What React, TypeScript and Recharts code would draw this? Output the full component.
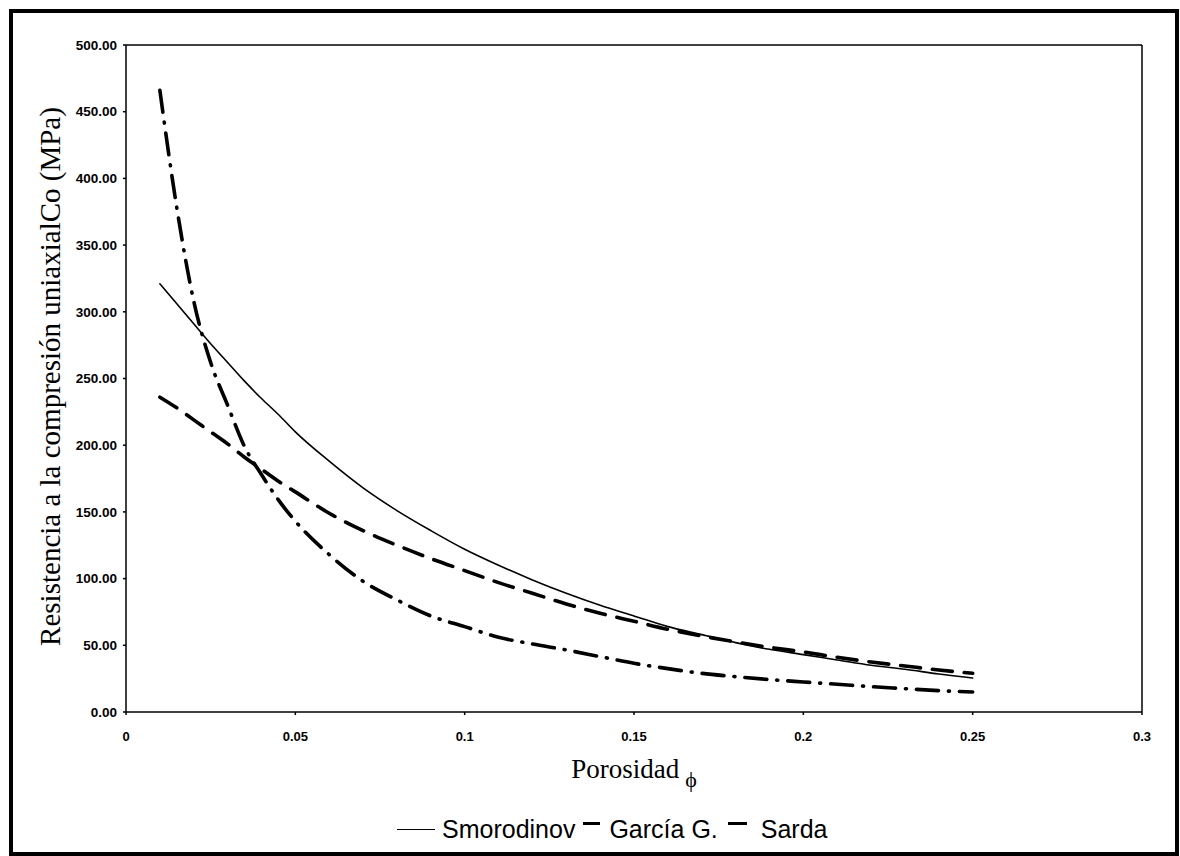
import { LineChart, Line, XAxis, YAxis, Legend, ReferenceLine, Label } from "recharts";

const PHI = [
  0.01, 0.015, 0.02, 0.025, 0.03, 0.035, 0.04, 0.045, 0.05, 0.06, 0.07, 0.08, 0.09, 0.1, 0.11, 0.12, 0.13, 0.14, 0.15,
  0.16, 0.17, 0.18, 0.19, 0.2, 0.21, 0.22, 0.23, 0.24, 0.25,
];

const SMORODINOV = [
  321, 306, 291, 276, 262, 248, 235, 223, 210, 188, 168, 151, 136, 122, 110, 99, 89, 80, 72, 64, 58, 52, 47, 43, 39, 35,
  32, 28.5, 25.5,
];

const GARCIA = [
  236, 228, 219, 210, 201, 191, 182, 173, 165, 149, 136, 125, 115, 106, 97, 89, 81, 74, 68, 62, 57, 52.5, 48.5, 45, 41,
  37.5, 34.5, 31.5, 29,
];

const SARDA = [
  466, 378, 308, 262, 230, 199, 178, 159, 143, 118, 98, 84, 72, 64, 56, 51, 46.5, 41.5, 36.5, 32.5, 29, 26.5, 24.3, 22.5,
  20.8, 19, 17.5, 16, 15,
];

const X_TICKS = [0, 0.05, 0.1, 0.15, 0.2, 0.25, 0.3];
const Y_TICKS = [0, 50, 100, 150, 200, 250, 300, 350, 400, 450, 500];

const SERIES = [
  { key: "smorodinov", name: "Smorodinov", width: 1.6, dash: undefined as string | undefined },
  { key: "garcia", name: "García G.", width: 3.6, dash: "20 12" },
  { key: "sarda", name: "Sarda", width: 3.6, dash: "22 10 1 10" },
];

const data = PHI.map((phi, i) => ({
  phi,
  smorodinov: SMORODINOV[i],
  garcia: GARCIA[i],
  sarda: SARDA[i],
}));

const SANS = '"Liberation Sans", Arial, sans-serif';
const SERIF = '"Liberation Serif", "Times New Roman", serif';

function XTitle(props: any) {
  const vb = props.viewBox || {};
  const cx = vb.x + vb.width / 2;
  return (
    <text x={cx} y={vb.y + 66} textAnchor="middle" fontFamily={SERIF} fontSize={27} fill="#000">
      Porosidad
      <tspan dx={6} dy={9} fontSize={22}>
        ϕ
      </tspan>
    </text>
  );
}

function YTitle(props: any) {
  const vb = props.viewBox || {};
  const cy = vb.y + vb.height / 2 - 2;
  const x = 60;
  return (
    <text
      x={x}
      y={cy}
      transform={`rotate(-90 ${x} ${cy})`}
      textAnchor="middle"
      fontFamily={SERIF}
      fontSize={29}
      fill="#000"
    >
      Resistencia a la compresión uniaxialCo (MPa)
    </text>
  );
}

function LegendContent() {
  return (
    <div
      style={{
        display: "flex",
        alignItems: "center",
        height: 30,
        paddingLeft: 397,
        fontFamily: SANS,
        fontSize: 25,
        color: "#000",
      }}
    >
      <span style={{ width: 38, height: 0, borderTop: "1.5px solid #000", marginRight: 7 }} />
      <span>Smorodinov</span>
      <span style={{ width: 17, height: 0, borderTop: "3.5px solid #000", margin: "0 9px 0 8px", position: "relative", top: -6 }} />
      <span>García G.</span>
      <span style={{ width: 19, height: 0, borderTop: "3.5px solid #000", margin: "0 14px 0 10px", position: "relative", top: -6 }} />
      <span>Sarda</span>
    </div>
  );
}

export default function App() {
  return (
    <div style={{ position: "absolute", left: 0, top: 0, width: 1180, height: 856, background: "#fff" }}>
      <div
        style={{
          position: "absolute",
          left: 9,
          top: 9,
          width: 1170,
          height: 847,
          border: "4px solid #000",
          boxSizing: "border-box",
        }}
      />
      <div style={{ position: "absolute", left: 0, top: 0 }}>
        <LineChart width={1180} height={856} data={data} margin={{ top: 45, right: 38, left: 46, bottom: 0 }}>
          <XAxis
            dataKey="phi"
            type="number"
            domain={[0, 0.3]}
            ticks={X_TICKS}
            height={114}
            tickSize={3}
            tickMargin={17}
            stroke="#000"
            strokeWidth={1.5}
            tick={{ fontSize: 13, fill: "#000", fontFamily: SANS, fontWeight: 700 }}
          >
            <Label content={XTitle} />
          </XAxis>
          <YAxis
            type="number"
            domain={[0, 500]}
            ticks={Y_TICKS}
            tickFormatter={(v) => Number(v).toFixed(2)}
            width={80}
            tickSize={3}
            tickMargin={6}
            stroke="#000"
            strokeWidth={1.5}
            tick={{ fontSize: 13.5, fill: "#000", fontFamily: SANS, fontWeight: 700 }}
          >
            <Label content={YTitle} />
          </YAxis>
          <ReferenceLine y={500} stroke="#000" strokeWidth={1.5} />
          <ReferenceLine x={0.3} stroke="#000" strokeWidth={1.5} />
          <Legend
            verticalAlign="bottom"
            height={30}
            wrapperStyle={{ top: 814, left: 0, width: 1180 }}
            content={LegendContent}
          />
          {SERIES.map((s) => (
            <Line
              key={s.key}
              type="monotone"
              dataKey={s.key}
              name={s.name}
              stroke="#000"
              strokeWidth={s.width}
              strokeDasharray={s.dash}
              strokeLinecap="round"
              dot={false}
              isAnimationActive={false}
            />
          ))}
        </LineChart>
      </div>
    </div>
  );
}
